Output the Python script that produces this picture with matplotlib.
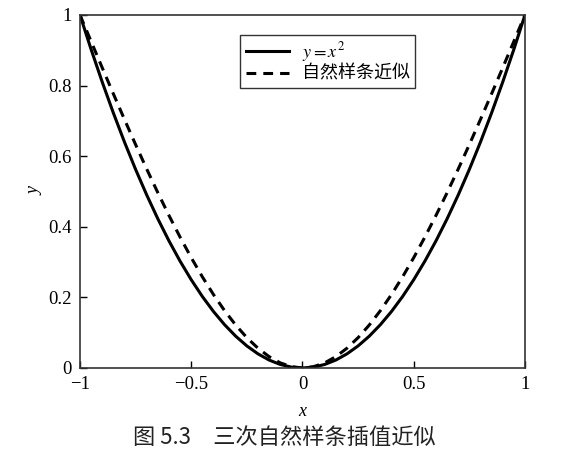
import matplotlib
matplotlib.use('Agg')
import matplotlib.pyplot as plt

plt.rcParams['font.family'] = ['Liberation Serif', 'Noto Sans CJK SC', 'DejaVu Sans']
plt.rcParams['mathtext.fontset'] = 'stix'

# x 采样点
xs = [-1.0, -0.95, -0.9, -0.85, -0.8, -0.75, -0.7, -0.65, -0.6, -0.55, -0.5,
      -0.45, -0.4, -0.35, -0.3, -0.25, -0.2, -0.15, -0.1, -0.05, 0.0,
      0.05, 0.1, 0.15, 0.2, 0.25, 0.3, 0.35, 0.4, 0.45, 0.5,
      0.55, 0.6, 0.65, 0.7, 0.75, 0.8, 0.85, 0.9, 0.95, 1.0]
# y = x^2
y_exact_half = [0.0, 0.0025, 0.01, 0.0225, 0.04, 0.0625, 0.09, 0.1225, 0.16, 0.2025, 0.25,
                0.3025, 0.36, 0.4225, 0.49, 0.5625, 0.64, 0.7225, 0.81, 0.9025, 1.0]
# 自然样条近似
y_spline_half = [0.0, 0.0037, 0.0145, 0.0321, 0.056, 0.0859, 0.1215, 0.1623, 0.208, 0.2582, 0.3125,
                 0.3706, 0.432, 0.4964, 0.5635, 0.6328, 0.704, 0.7767, 0.8505, 0.9251, 1.0]
y_exact = y_exact_half[::-1] + y_exact_half[1:]
y_spline = y_spline_half[::-1] + y_spline_half[1:]

xticks = [-1, -0.5, 0, 0.5, 1]
xtick_labels = ['\u22121', '\u22120.5', '0', '0.5', '1']
yticks = [0, 0.2, 0.4, 0.6, 0.8, 1]
ytick_labels = ['0', '0.2', '0.4', '0.6', '0.8', '1']

fig = plt.figure(figsize=(5.64, 4.69), dpi=100)
ax = fig.add_axes([0.1418, 0.2154, 0.789, 0.7527])

ax.plot(xs, y_exact, color='k', lw=2.2, label='$y=x^2$')
ax.plot(xs, y_spline, color='k', lw=2.2, ls=(0, (3.2, 2.3)), label='自然样条近似')

ax.set_xlim(-1, 1)
ax.set_ylim(0, 1)
ax.set_xticks(xticks)
ax.set_xticklabels(xtick_labels)
ax.set_yticks(yticks)
ax.set_yticklabels(ytick_labels)
ax.tick_params(direction='in', length=5, width=1, labelsize=13.5, pad=6,
               top=False, right=False)
for s in ax.spines.values():
    s.set_linewidth(1.2)
    s.set_color('#333333')

ax.set_xlabel('x', fontsize=13, style='italic', labelpad=7)
ax.set_ylabel('y', fontsize=13, style='italic', labelpad=3)

leg = ax.legend(loc='upper left', bbox_to_anchor=(0.34, 0.97),
                frameon=True, fancybox=False, edgecolor='k', handlelength=2.4,
                borderpad=0.3, labelspacing=0.05, handletextpad=0.7,
                prop={'family': ['Noto Sans CJK SC'], 'size': 13})
leg.get_frame().set_linewidth(1.0)

fig.text(0.505, 0.068, '图 5.3\u3000三次自然样条插值近似', ha='center', va='center',
         fontsize=16, family=['Noto Sans CJK SC', 'DejaVu Sans'], color='#222222')

fig.savefig('out.png', dpi=100)
